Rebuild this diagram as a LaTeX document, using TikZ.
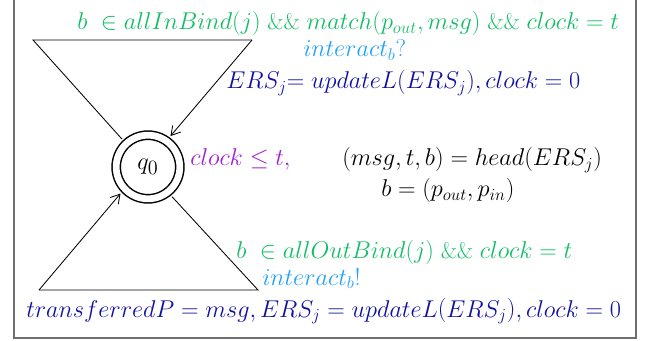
\documentclass[tikz,border=0pt]{standalone}
\usetikzlibrary{arrows.meta, positioning}
\DeclareMathSizes{16}{16}{12.5}{10}
\DeclareMathSizes{18}{18}{13.5}{11}
\definecolor{guardgreen}{RGB}{16,190,100}
\definecolor{syncblue}{RGB}{30,160,255}
\definecolor{updblue}{RGB}{16,16,160}
\definecolor{invpurple}{RGB}{160,30,210}
\definecolor{framegray}{RGB}{110,110,110}

\begin{document}
\begin{tikzpicture}[x=0.025cm, y=-0.025cm,
    state/.style={circle, draw=black, line width=1.05pt, double, double distance=0.17cm, minimum size=1.59cm, inner sep=0pt, outer sep=0.16cm},
    label/.style={anchor=base west, inner sep=0pt, font=\fontsize{16}{19}\selectfont},
    edge/.style={line width=0.6pt},
    flow/.style={edge, -{Straight Barb[length=0.22cm, width=0.26cm]}}
]
    \useasboundingbox (0,0) rectangle (646,341);
    \draw[framegray, line width=1.4pt] (14,-10) -- (14,338) -- (636,338) -- (636,-10);

    % State
    \node[state] (q0) at (148,167) {\fontsize{18}{21}\selectfont$q_0$};

    % Upper loop
    \coordinate (inTopLeft) at (33,40);
    \coordinate (inTopRight) at (252,40);
    \draw[edge] (q0.133) -- (inTopLeft) -- (inTopRight);
    \draw[flow] (inTopRight) -- (q0.54);
    \node[label, text=guardgreen] (guardIn) at (77,30) {$b\ \in allInBind(j)$ \&\&\ $match(p_{out}, msg)$ \&\& $clock=t$};
    \node[label, text=syncblue] (syncIn) at (303,57) {$interact_b?$};
    \node[label, text=updblue] (updateIn) at (226,89) {$ERS_j{=}\ updateL\bigl(ERS_j\bigr), clock=0$};

    % Invariant and definitions
    \node[label, text=invpurple] (invariant) at (190,166) {$clock\leq t,$};
    \node[label] (headDef) at (342,166) {$(msg, t, b) = head(ERS_j)$};
    \node[label] (bindDef) at (381,197) {$b = (p_{out}, p_{in})$};

    % Lower loop
    \coordinate (outBotRight) at (258,290);
    \coordinate (outBotLeft) at (39,290);
    \draw[edge] (q0.309) -- (outBotRight) -- (outBotLeft);
    \draw[flow] (outBotLeft) -- (q0.224);
    \node[label, text=guardgreen] (guardOut) at (236,258) {$b\ \in allOutBind(j)$ \&\& $clock=t$};
    \node[label, text=syncblue] (syncOut) at (262,285) {$interact_b!$};
    \node[label, text=updblue] (updateOut) at (26,317) {$transferredP = msg, ERS_j = updateL\bigl(ERS_j\bigr),clock = 0$};

\end{tikzpicture}
\end{document}
